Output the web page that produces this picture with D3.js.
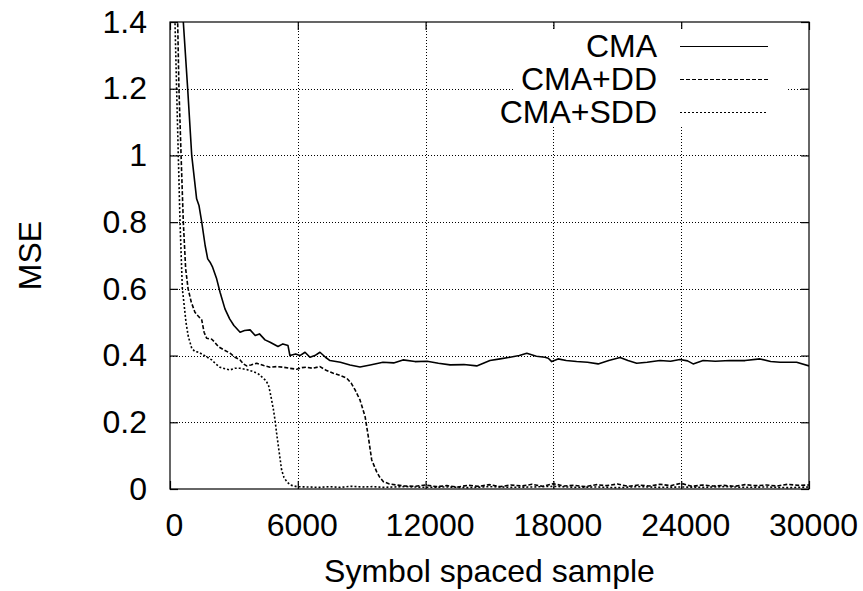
<!DOCTYPE html>
<html>
<head>
<meta charset="utf-8">
<script src="https://cdn.jsdelivr.net/npm/d3@7"></script>
<style>
  body { margin: 0; background: #fff; }
  svg { display: block; font-family: 'Liberation Sans', Arial, Helvetica, sans-serif; }
</style>
</head>
<body>
<div id="chart"></div>
<script>
// Tick values / labels
const xTicks = [0, 6000, 12000, 18000, 24000, 30000]
const xTickLabels = ['0', '6000', '12000', '18000', '24000', '30000']
const yTicks = [0, 0.2, 0.4, 0.6, 0.8, 1.0, 1.2, 1.4]
const yTickLabels = ['0', '0.2', '0.4', '0.6', '0.8', '1', '1.2', '1.4']

const seriesNames = ['CMA', 'CMA+DD', 'CMA+SDD']

// [symbol index, MSE]
const cma = [
  [400, 1.65], [625, 1.4], [830, 1.2], [1020, 1.0], [1250, 0.87], [1360, 0.85],
  [1490, 0.8], [1650, 0.73], [1770, 0.69], [1880, 0.68], [2000, 0.665], [2190, 0.63],
  [2350, 0.59], [2580, 0.54], [2800, 0.51], [3000, 0.49], [3290, 0.47], [3500, 0.475],
  [3760, 0.477], [4000, 0.46], [4200, 0.465], [4460, 0.447], [4700, 0.44], [5070, 0.427],
  [5300, 0.435], [5540, 0.43], [5630, 0.4], [5900, 0.405], [6100, 0.4], [6340, 0.41],
  [6570, 0.395], [6800, 0.4], [7040, 0.41], [7300, 0.395], [7510, 0.385], [8000, 0.38],
  [8450, 0.372], [8920, 0.366], [9400, 0.372], [10000, 0.38], [10500, 0.378], [10940, 0.387],
  [11500, 0.382], [12070, 0.383], [12600, 0.377], [13150, 0.372], [13800, 0.373], [14400, 0.369],
  [15020, 0.385], [15500, 0.39], [15960, 0.395], [16400, 0.4], [16750, 0.407], [17200, 0.398],
  [17600, 0.395], [17760, 0.392], [17920, 0.382], [18220, 0.39], [18600, 0.385], [19090, 0.382],
  [19600, 0.38], [20100, 0.375], [20600, 0.385], [21130, 0.394], [21500, 0.385], [21910, 0.377],
  [22400, 0.38], [23000, 0.385], [23500, 0.383], [23940, 0.388], [24300, 0.384], [24560, 0.375],
  [25030, 0.385], [25600, 0.383], [26290, 0.385], [27000, 0.385], [27700, 0.39], [28200, 0.382],
  [28640, 0.38], [29420, 0.38], [30000, 0.369]
]

const cmaDD = [
  [200, 1.9], [360, 1.4], [420, 1.2], [520, 1.0], [625, 0.8], [735, 0.66], [850, 0.6],
  [1000, 0.56], [1170, 0.53], [1300, 0.52], [1490, 0.507], [1600, 0.47], [1720, 0.452],
  [1960, 0.449], [2100, 0.44], [2270, 0.427], [2500, 0.418], [2820, 0.407], [3050, 0.395],
  [3290, 0.387], [3450, 0.375], [3600, 0.369], [3800, 0.372], [4070, 0.377], [4400, 0.37],
  [4700, 0.365], [5000, 0.367], [5320, 0.365], [5600, 0.362], [5950, 0.359], [6200, 0.364],
  [6420, 0.365], [6700, 0.362], [7040, 0.367], [7300, 0.357], [7670, 0.347], [8000, 0.34],
  [8300, 0.332], [8500, 0.318], [8690, 0.297], [8920, 0.267], [9050, 0.24], [9160, 0.217],
  [9310, 0.157], [9470, 0.087], [9700, 0.052], [9850, 0.035], [10020, 0.022], [10300, 0.015],
  [10640, 0.012], [11000, 0.009], [11500, 0.008], [12000, 0.012], [12500, 0.007], [13000, 0.01],
  [13500, 0.006], [14000, 0.011], [14500, 0.008], [15000, 0.013], [15500, 0.007], [16000, 0.012],
  [16500, 0.009], [17000, 0.014], [17500, 0.008], [18000, 0.016], [18500, 0.009], [19000, 0.011],
  [19500, 0.007], [20000, 0.013], [20500, 0.01], [21000, 0.015], [21500, 0.008], [22000, 0.012],
  [22500, 0.009], [23000, 0.014], [23500, 0.01], [24000, 0.017], [24500, 0.008], [25000, 0.012],
  [25500, 0.009], [26000, 0.011], [26500, 0.008], [27000, 0.013], [27500, 0.01], [28000, 0.012],
  [28500, 0.009], [29000, 0.014], [29500, 0.011], [30000, 0.012]
]

const cmaSDD = [
  [100, 1.9], [235, 1.4], [310, 1.2], [390, 1.0], [470, 0.8], [580, 0.6], [630, 0.572],
  [750, 0.5], [860, 0.457], [1020, 0.422], [1170, 0.412], [1350, 0.41], [1560, 0.402],
  [1750, 0.395], [1960, 0.387], [2150, 0.375], [2350, 0.365], [2600, 0.36], [2820, 0.357],
  [3050, 0.362], [3290, 0.362], [3600, 0.358], [3910, 0.352], [4150, 0.345], [4380, 0.332],
  [4500, 0.325], [4620, 0.312], [4700, 0.29], [4770, 0.267], [4850, 0.24], [4930, 0.207],
  [5010, 0.165], [5090, 0.127], [5170, 0.09], [5240, 0.057], [5350, 0.035], [5480, 0.022],
  [5650, 0.012], [5950, 0.007], [6500, 0.006], [7000, 0.005], [7500, 0.007], [8000, 0.005],
  [8500, 0.008], [9000, 0.006], [9500, 0.007], [10000, 0.005], [11000, 0.007], [12000, 0.005],
  [13000, 0.006], [14000, 0.004], [15000, 0.007], [16000, 0.005], [17000, 0.006], [18000, 0.008],
  [19000, 0.005], [20000, 0.006], [21000, 0.004], [22000, 0.007], [23000, 0.005], [24000, 0.006],
  [25000, 0.005], [26000, 0.007], [27000, 0.005], [28000, 0.006], [29000, 0.004], [30000, 0.006]
]

const width = 863
const height = 591
const plot = { left: 170, right: 809, top: 22, bottom: 489 }
const fontSize = 32

const x = d3.scaleLinear().domain([0, 30000]).range([plot.left, plot.right])
const y = d3.scaleLinear().domain([0, 1.4]).range([plot.bottom, plot.top])

const svg = d3.select('#chart')
  .append('svg')
  .attr('width', width)
  .attr('height', height)

svg.append('defs')
  .append('clipPath')
  .attr('id', 'plot-clip')
  .append('rect')
  .attr('x', plot.left)
  .attr('y', plot.top)
  .attr('width', plot.right - plot.left)
  .attr('height', plot.bottom - plot.top)

// Dotted grid
const grid = svg.append('g').attr('class', 'grid')
  .attr('stroke', '#000')
  .attr('stroke-width', 1)
  .attr('stroke-dasharray', '1,2')

grid.selectAll('.hgrid')
  .data(yTicks.slice(1, -1))
  .join('line')
  .attr('x1', plot.left).attr('x2', plot.right)
  .attr('y1', d => Math.round(y(d)) + 0.5).attr('y2', d => Math.round(y(d)) + 0.5)

grid.selectAll('.vgrid')
  .data(xTicks.slice(1, -1))
  .join('line')
  .attr('x1', d => Math.round(x(d)) + 0.5).attr('x2', d => Math.round(x(d)) + 0.5)
  .attr('y1', plot.top).attr('y2', plot.bottom)

// Axes with inward ticks (mirrored on top/right)
const styleAxis = g => {
  g.select('.domain').remove()
  g.selectAll('.tick line').attr('stroke', '#000').attr('stroke-width', 1.2)
  g.selectAll('.tick text')
    .attr('fill', '#000')
    .style('font-size', `${fontSize}px`)
    .style('font-family', "'Liberation Sans', Arial, sans-serif")
}

svg.append('g')
  .attr('transform', `translate(0,${plot.bottom})`)
  .call(d3.axisBottom(x).tickValues(xTicks).tickSize(-8).tickPadding(24)
    .tickFormat((d, i) => xTickLabels[i]))
  .call(styleAxis)
  .selectAll('.tick text').attr('dx', 4)

svg.append('g')
  .attr('transform', `translate(0,${plot.top})`)
  .call(d3.axisTop(x).tickValues(xTicks).tickSize(-8).tickFormat(''))
  .call(styleAxis)

svg.append('g')
  .attr('transform', `translate(${plot.left},0)`)
  .call(d3.axisLeft(y).tickValues(yTicks).tickSize(-8).tickPadding(23)
    .tickFormat((d, i) => yTickLabels[i]))
  .call(styleAxis)

svg.append('g')
  .attr('transform', `translate(${plot.right},0)`)
  .call(d3.axisRight(y).tickValues(yTicks).tickSize(-8).tickFormat(''))
  .call(styleAxis)

// Opaque key box
svg.append('rect')
  .attr('x', 515)
  .attr('y', 29)
  .attr('width', 788 - 515)
  .attr('height', 98)
  .attr('fill', '#fff')

// Series
const series = [
  { name: seriesNames[0], data: cma, dash: null },
  { name: seriesNames[1], data: cmaDD, dash: '4,2' },
  { name: seriesNames[2], data: cmaSDD, dash: '2,2' },
]

const line = d3.line()
  .x(d => x(d[0]))
  .y(d => y(d[1]))

svg.append('g')
  .attr('clip-path', 'url(#plot-clip)')
  .selectAll('path')
  .data(series)
  .join('path')
  .attr('d', d => line(d.data))
  .attr('fill', 'none')
  .attr('stroke', '#000')
  .attr('stroke-width', 1.6)
  .attr('stroke-linejoin', 'round')
  .attr('stroke-dasharray', d => d.dash)

// Legend
const legend = svg.append('g').attr('class', 'legend')
const rowY = d3.scalePoint().domain(seriesNames).range([46, 112])

const rows = legend.selectAll('g')
  .data(series)
  .join('g')
  .attr('transform', d => `translate(0,${rowY(d.name)})`)

rows.append('text')
  .attr('x', 657)
  .attr('dy', '0.35em')
  .attr('text-anchor', 'end')
  .style('font-size', `${fontSize}px`)
  .text(d => d.name)

rows.append('line')
  .attr('x1', 680).attr('x2', 768)
  .attr('y1', 0.5).attr('y2', 0.5)
  .attr('stroke', '#000')
  .attr('stroke-width', 1)
  .attr('stroke-dasharray', d => d.dash)

// Frame
svg.append('rect')
  .attr('x', plot.left)
  .attr('y', plot.top)
  .attr('width', plot.right - plot.left)
  .attr('height', plot.bottom - plot.top)
  .attr('fill', 'none')
  .attr('stroke', '#000')
  .attr('stroke-width', 1.2)

// Axis titles
svg.append('text')
  .attr('x', (plot.left + plot.right) / 2)
  .attr('y', 582)
  .attr('text-anchor', 'middle')
  .style('font-size', `${fontSize}px`)
  .text('Symbol spaced sample')

svg.append('text')
  .attr('transform', `translate(30,${(plot.top + plot.bottom) / 2}) rotate(-90)`)
  .attr('dy', '0.35em')
  .attr('text-anchor', 'middle')
  .style('font-size', `${fontSize}px`)
  .text('MSE')
</script>
</body>
</html>
